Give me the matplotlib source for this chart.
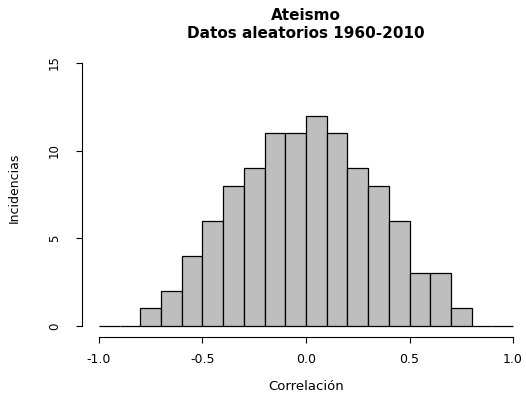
import matplotlib.pyplot as plt
import numpy as np

plt.rcParams['font.family'] = ['DejaVu Sans']

# histogram bins (width 0.1 from -1 to 1) and counts
bin_edges = np.round(np.arange(-1.0, 1.0001, 0.1), 2)
counts = [0, 0, 1, 2, 4, 6, 8, 9, 11, 11, 12, 11, 9, 8, 6, 3, 3, 1, 0, 0]
x_ticks = [-1.0, -0.5, 0.0, 0.5, 1.0]
x_labels = ['-1.0', '-0.5', '0.0', '0.5', '1.0']
y_ticks = [0, 5, 10, 15]

W, H = 526, 401
fig = plt.figure(figsize=(W / 100, H / 100), dpi=100)
# plot region in pixels (R style, 4% extension)
left, right, top, bottom = 82.4, 529.6, 52.5, 336.5
ax = fig.add_axes([left / W, (H - bottom) / H, (right - left) / W, (bottom - top) / H])

ax.bar(bin_edges[:-1], counts, width=0.1, align='edge',
       color='#bebebe', edgecolor='black', linewidth=0.9)

ax.set_xlim(-1.08, 1.08)
ax.set_ylim(-0.6, 15.6)
for s in ['top', 'right']:
    ax.spines[s].set_visible(False)
ax.spines['left'].set_bounds(0, 15)
ax.spines['bottom'].set_bounds(-1, 1)
ax.spines['left'].set_linewidth(0.8)
ax.spines['bottom'].set_linewidth(0.8)

ax.set_xticks(x_ticks)
ax.set_xticklabels(x_labels, fontsize=9)
ax.set_yticks(y_ticks)
ax.set_yticklabels([str(v) for v in y_ticks], rotation=90, va='center', fontsize=8.5)
ax.tick_params(axis='both', length=4.5, width=0.8)
ax.tick_params(axis='x', pad=7.5)
ax.tick_params(axis='y', pad=11)

fig.text(306 / W, 1 - 387 / H, 'Correlación', ha='center', va='center', fontsize=9.5)
fig.text(14 / W, 1 - 188 / H, 'Incidencias', ha='center', va='center', rotation=90, fontsize=9)
fig.text(306 / W, 1 - 15 / H, 'Ateismo', ha='center', va='center', fontsize=11, fontweight='bold')
fig.text(306 / W, 1 - 34 / H, 'Datos aleatorios 1960-2010', ha='center', va='center',
         fontsize=11, fontweight='bold')

fig.savefig('out.png', dpi=100)
